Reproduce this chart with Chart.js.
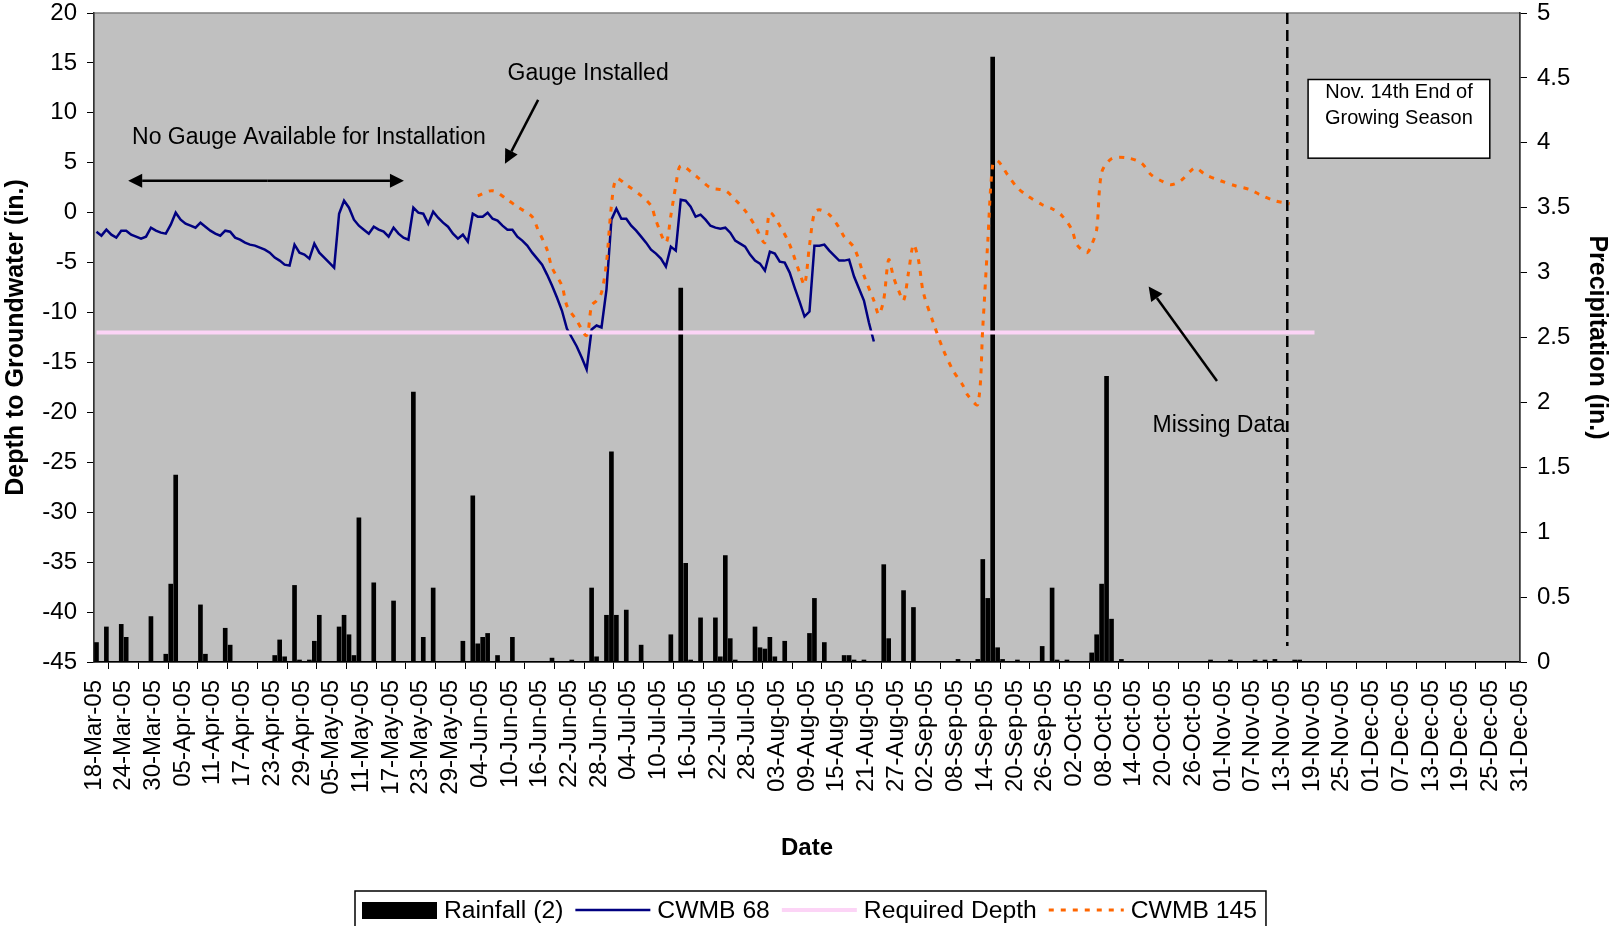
<!DOCTYPE html>
<html lang="en">
<head>
<meta charset="UTF-8">
<title>Depth to Groundwater and Rainfall, 2005</title>
<script src="https://cdn.jsdelivr.net/npm/chart.js"></script>
<style>
    body { margin: 0; background: #ffffff; }
    #wrap { width: 1613px; height: 926px; }
</style>
</head>
<body>
<div id="wrap"><canvas id="chart" width="1613" height="926"></canvas></div>
<script>
// day 0 = 18-Mar-05, axis ends on 31-Dec-05 (day 288)
const startDate = new Date(2005, 2, 18);
const totalDays = 288;
const tickStep = 6;
const monthNames = ['Jan', 'Feb', 'Mar', 'Apr', 'May', 'Jun', 'Jul', 'Aug', 'Sep', 'Oct', 'Nov', 'Dec'];

// Rainfall (2): day of record and inches
const rainDays = [0, 2, 5, 6, 11, 14, 15, 16, 21, 22,
    26, 27, 36, 37, 38, 40, 41, 43, 44, 45,
    49, 50, 51, 52, 53, 56, 60, 64, 66, 68,
    74, 76, 77, 78, 79, 81, 84, 92, 96, 100,
    101, 103, 104, 105, 107, 110, 116, 118, 119, 120,
    122, 125, 126, 127, 128, 129, 133, 134, 135, 136,
    137, 139, 144, 145, 147, 151, 152, 153, 155, 159,
    160, 163, 165, 174, 178, 179, 180, 181, 182, 183,
    186, 191, 193, 194, 196, 201, 202, 203, 204, 205,
    207, 225, 229, 234, 236, 238, 242, 243];
const rainInches = [0.15, 0.27, 0.29, 0.19, 0.35, 0.06, 0.60, 1.44, 0.44, 0.06,
    0.26, 0.13, 0.05, 0.17, 0.04, 0.59, 0.01, 0.01, 0.16, 0.36,
    0.27, 0.36, 0.21, 0.05, 1.11, 0.61, 0.47, 2.08, 0.19, 0.57,
    0.16, 1.28, 0.14, 0.19, 0.22, 0.05, 0.19, 0.03, 0.01, 0.57,
    0.04, 0.36, 1.62, 0.36, 0.40, 0.13, 0.21, 2.88, 0.76, 0.01,
    0.34, 0.34, 0.04, 0.82, 0.18, 0.01, 0.27, 0.11, 0.10, 0.19,
    0.04, 0.16, 0.22, 0.49, 0.15, 0.05, 0.05, 0.01, 0.01, 0.75,
    0.18, 0.55, 0.42, 0.02, 0.02, 0.79, 0.49, 4.66, 0.11, 0.02,
    0.01, 0.12, 0.57, 0.01, 0.01, 0.07, 0.21, 0.60, 2.20, 0.33,
    0.02, 0.01, 0.01, 0.01, 0.01, 0.02, 0.01, 0.01];

// CWMB 68: daily depth (in.) starting 18-Mar-05
const cwmb68Depth = [-1.9, -2.3, -1.7, -2.2, -2.5, -1.8, -1.8, -2.2, -2.4, -2.6,
    -2.4, -1.5, -1.8, -2.0, -2.1, -1.2, 0.0, -0.7, -1.1, -1.3,
    -1.5, -1.0, -1.4, -1.8, -2.1, -2.3, -1.8, -1.9, -2.5, -2.7,
    -3.0, -3.2, -3.3, -3.5, -3.7, -4.0, -4.5, -4.8, -5.2, -5.3,
    -3.2, -4.0, -4.2, -4.6, -3.1, -4.0, -4.5, -5.0, -5.5, -0.1,
    1.2, 0.5, -0.7, -1.3, -1.7, -2.1, -1.4, -1.7, -1.9, -2.4,
    -1.5, -2.1, -2.5, -2.7, 0.5, 0.0, -0.1, -1.1, 0.1, -0.5,
    -1.0, -1.4, -2.1, -2.6, -2.2, -2.9, -0.1, -0.4, -0.4, 0.0,
    -0.6, -0.8, -1.3, -1.7, -1.7, -2.4, -2.8, -3.3, -4.0, -4.6,
    -5.2, -6.2, -7.3, -8.5, -9.8, -11.6, -12.5, -13.4, -14.5, -15.7,
    -11.7, -11.3, -11.5, -7.7, -0.7, 0.4, -0.6, -0.6, -1.3, -1.8,
    -2.4, -3.0, -3.7, -4.1, -4.6, -5.4, -3.4, -3.8, 1.3, 1.2,
    0.6, -0.4, -0.2, -0.7, -1.3, -1.5, -1.6, -1.5, -2.0, -2.8,
    -3.1, -3.4, -4.2, -4.8, -5.1, -5.8, -3.9, -4.1, -4.9, -5.0,
    -6.0, -7.5, -8.9, -10.4, -9.9, -3.3, -3.3, -3.2, -3.8, -4.3,
    -4.8, -4.8, -4.7, -6.4, -7.6, -8.8, -11.0, -12.9];

// CWMB 145: day of record and depth (in.)
const cwmb145Days = [77, 80, 83, 85, 88, 89, 91, 92, 94, 95,
    97, 99, 100, 101, 102, 103, 104, 105, 107, 110,
    112, 113, 115, 116, 117, 118, 121, 124, 127, 129,
    131, 133, 135, 136, 138, 140, 142, 143, 144, 145,
    146, 148, 150, 151, 153, 155, 157, 158, 159, 160,
    161, 162, 163, 164, 165, 166, 167, 169, 171, 173,
    175, 176, 178, 179, 180, 181, 182, 184, 186, 188,
    191, 193, 195, 197, 198, 200, 201, 202, 203, 205,
    208, 211, 213, 215, 217, 219, 221, 222, 224, 227,
    230, 233, 235, 238, 241];
const cwmb145Depth = [1.7, 2.2, 1.3, 0.6, -0.4, -1.5, -3.7, -5.5, -7.3, -9.3,
    -10.8, -12.3, -9.3, -8.8, -8.0, -5.0, 0.7, 3.4, 2.8, 1.7,
    0.7, -0.8, -3.0, -0.3, 2.7, 4.7, 3.7, 2.5, 2.2, 1.3,
    0.2, -1.3, -3.0, 0.0, -1.3, -3.2, -6.0, -7.2, -3.3, 0.0,
    0.3, -0.2, -1.5, -2.4, -3.5, -6.3, -8.8, -10.2, -8.7, -4.7,
    -6.5, -7.8, -8.8, -6.0, -3.2, -4.7, -8.0, -11.0, -13.7, -15.8,
    -17.3, -18.3, -19.2, -11.5, -3.0, 4.8, 5.2, 3.8, 2.5, 1.7,
    0.8, 0.4, -0.3, -1.7, -3.2, -4.0, -3.2, -1.7, 4.0, 5.4,
    5.5, 5.0, 3.8, 3.2, 2.8, 3.2, 4.2, 4.5, 3.8, 3.2,
    2.7, 2.3, 1.8, 1.2, 0.9];

// Required depth and the days it is drawn over
const requiredDepth = -12;
const requiredDays = [0, 246];

// 14-Nov-05, end of growing season
const seasonEndDay = 241;

function dayLabel(d) {
    const dt = new Date(startDate.getFullYear(), startDate.getMonth(), startDate.getDate() + d);
    return String(dt.getDate()).padStart(2, '0') + '-' + monthNames[dt.getMonth()] + '-' + String(dt.getFullYear()).slice(2);
}

// points sit in the middle of their day
const rainPoints = rainDays.map((d, i) => ({ x: d + 0.5, y: rainInches[i] }));
const cwmb68Points = cwmb68Depth.map((v, d) => ({ x: d + 0.5, y: v }));
const cwmb145Points = cwmb145Days.map((d, i) => ({ x: d + 0.5, y: cwmb145Depth[i] }));
const requiredPoints = requiredDays.map(d => ({ x: d + 0.5, y: requiredDepth }));

const FONT = 'Arial, "Liberation Sans", sans-serif';
Chart.defaults.font.family = FONT;
Chart.defaults.color = '#000';

const plotBackground = {
    id: 'plotBackground',
    beforeDraw(chart) {
        const { ctx, chartArea: a } = chart;
        ctx.save();
        ctx.fillStyle = '#c0c0c0';
        ctx.fillRect(a.left, a.top, a.right - a.left, a.bottom - a.top);
        ctx.strokeStyle = '#808080';
        ctx.lineWidth = 1.5;
        ctx.strokeRect(a.left, a.top, a.right - a.left, a.bottom - a.top);
        ctx.restore();
    }
};

function drawArrow(ctx, x1, y1, x2, y2) {
    const ang = Math.atan2(y2 - y1, x2 - x1);
    const len = 14, half = 7;
    const bx = x2 - len * Math.cos(ang), by = y2 - len * Math.sin(ang);
    ctx.beginPath();
    ctx.moveTo(x1, y1);
    ctx.lineTo(bx, by);
    ctx.stroke();
    ctx.beginPath();
    ctx.moveTo(x2, y2);
    ctx.lineTo(bx + half * Math.sin(ang), by - half * Math.cos(ang));
    ctx.lineTo(bx - half * Math.sin(ang), by + half * Math.cos(ang));
    ctx.closePath();
    ctx.fill();
}

const notes = {
    id: 'notes',
    afterDatasetsDraw(chart) {
        const { ctx } = chart;
        const px = t => chart.scales.x.getPixelForValue(t);
        const py = v => chart.scales.y.getPixelForValue(v);
        ctx.save();

        // end of growing season marker
        ctx.strokeStyle = '#000';
        ctx.lineWidth = 2.5;
        ctx.setLineDash([11, 6]);
        ctx.beginPath();
        ctx.moveTo(px(seasonEndDay), py(20));
        ctx.lineTo(px(seasonEndDay), py(-43.4));
        ctx.stroke();
        ctx.setLineDash([]);

        ctx.fillStyle = '#000';
        ctx.font = '23px ' + FONT;
        ctx.textAlign = 'center';
        ctx.textBaseline = 'middle';
        ctx.fillText('No Gauge Available for Installation', px(43.4), py(7.5));
        ctx.fillText('Gauge Installed', px(99.8), py(13.9));
        ctx.fillText('Missing Data', px(227.2), py(-21.3));

        ctx.lineWidth = 2.5;
        drawArrow(ctx, px(35), py(3.2), px(6.9), py(3.2));
        drawArrow(ctx, px(35), py(3.2), px(62.6), py(3.2));
        drawArrow(ctx, px(89.7), py(11.3), px(83.0), py(4.9));
        drawArrow(ctx, px(226.8), py(-16.85), px(213.0), py(-7.4));

        // text box
        const bx1 = px(245.2), bx2 = px(281.9), by1 = py(13.34), by2 = py(5.46);
        ctx.fillStyle = '#fff';
        ctx.fillRect(bx1, by1, bx2 - bx1, by2 - by1);
        ctx.lineWidth = 1.5;
        ctx.strokeRect(bx1, by1, bx2 - bx1, by2 - by1);
        ctx.fillStyle = '#000';
        ctx.font = '20px ' + FONT;
        ctx.fillText('Nov. 14th End of', (bx1 + bx2) / 2, py(12.08));
        ctx.fillText('Growing Season', (bx1 + bx2) / 2, py(9.47));
        ctx.restore();
    }
};

// boxed legend along the bottom edge
const bottomLegend = {
    id: 'bottomLegend',
    afterDraw(chart) {
        const { ctx } = chart;
        const cy = 910;
        const left = 355, top = 891;
        let x = 362;
        ctx.save();
        ctx.font = '24.7px ' + FONT;
        ctx.textBaseline = 'middle';
        ctx.textAlign = 'left';
        chart.data.datasets.forEach((ds, i) => {
            if (ds.type === 'line') {
                ctx.strokeStyle = ds.borderColor;
                ctx.lineWidth = ds.borderWidth;
                ctx.setLineDash(ds.borderDash || []);
                ctx.beginPath();
                ctx.moveTo(x, cy);
                ctx.lineTo(x + 75, cy);
                ctx.stroke();
                ctx.setLineDash([]);
            } else {
                ctx.fillStyle = ds.backgroundColor;
                ctx.fillRect(x, cy - 8, 75, 17);
            }
            x += 82;
            ctx.fillStyle = '#000';
            ctx.fillText(ds.label, x, cy + 1);
            x += ctx.measureText(ds.label).width + (i < chart.data.datasets.length - 1 ? 12 : 9);
        });
        ctx.strokeStyle = '#000';
        ctx.lineWidth = 1.5;
        ctx.strokeRect(left, top, x - left, 60);
        ctx.restore();
    }
};

new Chart(document.getElementById('chart'), {
    type: 'bar',
    data: {
        datasets: [
            {
                type: 'bar',
                label: 'Rainfall (2)',
                data: rainPoints,
                yAxisID: 'y2',
                backgroundColor: '#000',
                barThickness: 4,
                minBarLength: 2,
                order: 3
            },
            {
                type: 'line',
                label: 'CWMB 68',
                data: cwmb68Points,
                yAxisID: 'y',
                borderColor: '#000080',
                borderWidth: 2.5,
                pointRadius: 0,
                tension: 0,
                order: 2
            },
            {
                type: 'line',
                label: 'Required Depth',
                data: requiredPoints,
                yAxisID: 'y',
                borderColor: '#fcd4f6',
                borderWidth: 4,
                pointRadius: 0,
                order: 1
            },
            {
                type: 'line',
                label: 'CWMB 145',
                data: cwmb145Points,
                yAxisID: 'y',
                borderColor: '#ff6600',
                borderWidth: 3,
                borderDash: [5, 7],
                pointRadius: 0,
                tension: 0.3,
                order: 0
            }
        ]
    },
    options: {
        responsive: false,
        animation: false,
        layout: { padding: { top: 13, left: 0, right: 0, bottom: 0 } },
        plugins: {
            legend: { display: false },
            tooltip: { enabled: false }
        },
        scales: {
            x: {
                type: 'linear',
                offset: false,
                min: 0,
                max: totalDays,
                afterBuildTicks: scale => {
                    const ticks = [];
                    for (let t = 0; t <= totalDays; t += tickStep) ticks.push({ value: t });
                    scale.ticks = ticks;
                },
                afterFit: scale => {
                    scale.height = 264;
                    scale.paddingLeft = 0;
                    scale.paddingRight = 0;
                },
                ticks: {
                    autoSkip: false,
                    minRotation: 90,
                    maxRotation: 90,
                    padding: 11,
                    font: { size: 24 },
                    callback: v => dayLabel(v)
                },
                grid: { drawOnChartArea: false, tickLength: 7, color: '#000', lineWidth: 1 },
                border: { color: '#000', width: 1.5 },
                title: {
                    display: true,
                    text: 'Date',
                    font: { size: 24, weight: 'bold' },
                    padding: { top: 0, bottom: 63 }
                }
            },
            y: {
                position: 'left',
                min: -45,
                max: 20,
                afterFit: scale => {
                    scale.width = 94;
                    scale.paddingTop = 0;
                    scale.paddingBottom = 0;
                },
                ticks: { stepSize: 5, padding: 10, font: { size: 24 } },
                grid: { drawOnChartArea: false, tickLength: 7, color: '#000', lineWidth: 1 },
                border: { color: '#333', width: 1.5 },
                title: {
                    display: true,
                    text: 'Depth to Groundwater (in.)',
                    font: { size: 25, weight: 'bold' },
                    padding: { top: 1, bottom: 0 }
                }
            },
            y2: {
                position: 'right',
                min: 0,
                max: 5,
                afterFit: scale => {
                    scale.width = 93;
                    scale.paddingTop = 0;
                    scale.paddingBottom = 0;
                },
                ticks: { stepSize: 0.5, padding: 10, font: { size: 24 }, callback: v => String(v) },
                grid: { drawOnChartArea: false, tickLength: 7, color: '#000', lineWidth: 1 },
                border: { color: '#333', width: 1.5 },
                title: {
                    display: true,
                    text: 'Precipitation (in.)',
                    font: { size: 25, weight: 'bold' },
                    padding: { top: 1, bottom: 0 }
                }
            }
        }
    },
    plugins: [plotBackground, notes, bottomLegend]
});
</script>
</body>
</html>
